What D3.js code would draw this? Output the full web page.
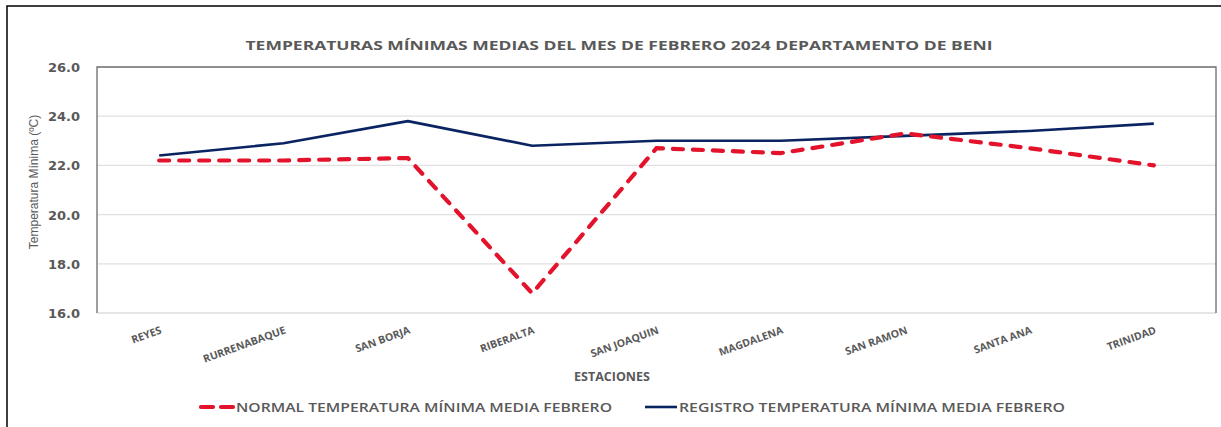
<!DOCTYPE html>
<html>
<head>
<meta charset="utf-8">
<script src="https://cdn.jsdelivr.net/npm/d3@7"></script>
<style>
  body { margin: 0; background: #fff; }
  svg { display: block; }
  .axis text { fill: #595959; }
</style>
</head>
<body>
<svg id="chart" width="1221" height="427"></svg>
<script>
/* Datos */
var estaciones = ['REYES', 'RURRENABAQUE', 'SAN BORJA', 'RIBERALTA', 'SAN JOAQUIN',
                  'MAGDALENA', 'SAN RAMON', 'SANTA ANA', 'TRINIDAD'];
var normal = [22.2, 22.2, 22.3, 16.8, 22.7, 22.5, 23.3, 22.7, 22.0];
var registro = [22.4, 22.9, 23.8, 22.8, 23.0, 23.0, 23.2, 23.4, 23.7];
var yTicks = [16, 18, 20, 22, 24, 26];

var titulo = 'TEMPERATURAS MÍNIMAS MEDIAS DEL MES DE FEBRERO 2024 DEPARTAMENTO DE BENI';
var serieNombres = ['NORMAL TEMPERATURA MÍNIMA MEDIA FEBRERO', 'REGISTRO TEMPERATURA MÍNIMA MEDIA FEBRERO'];

var svg = d3.select('#chart'),
    margin = {top: 67, right: 5, bottom: 114, left: 97},
    width = +svg.attr('width') - margin.left - margin.right,
    height = +svg.attr('height') - margin.top - margin.bottom;

var red = '#e3132b', navy = '#0a2361', grey = '#595959';

/* marco exterior */
svg.append('path')
    .attr('d', 'M7,427V6H1221')
    .attr('fill', 'none')
    .attr('stroke', '#000')
    .attr('stroke-width', 1.5);

var x = d3.scaleBand().domain(estaciones).range([0, width]),
    y = d3.scaleLinear().domain([16, 26]).range([height, 0]);

var g = svg.append('g')
    .attr('transform', 'translate(' + margin.left + ',' + margin.top + ')');

/* grid */
g.append('g')
    .selectAll('line')
    .data(yTicks.slice(1, -1))
    .enter().append('line')
      .attr('x1', 0).attr('x2', width)
      .attr('y1', function(d) { return y(d); })
      .attr('y2', function(d) { return y(d); })
      .attr('stroke', '#e0e0e0')
      .attr('stroke-width', 1.2);

g.append('line')
    .attr('x1', 0).attr('x2', width)
    .attr('y1', height).attr('y2', height)
    .attr('stroke', '#dcdcdc').attr('stroke-width', 1.5);

g.append('path')
    .attr('d', 'M0,' + height + 'V0H' + width + 'V' + height)
    .attr('fill', 'none')
    .attr('stroke', '#6b6b6b')
    .attr('stroke-width', 1.3);

/* eje y */
g.append('g')
    .attr('class', 'axis')
    .call(d3.axisLeft(y).tickValues(yTicks).tickFormat(d3.format('.1f')).tickSize(0).tickPadding(17))
    .call(function(a) { a.select('.domain').remove(); })
    .selectAll('text')
      .attr('font-family', 'DejaVu Sans')
      .attr('font-weight', 'bold')
      .attr('font-size', 13)
      .attr('dy', '0.35em');

/* eje x */
g.append('g')
    .attr('class', 'axis')
    .attr('transform', 'translate(0,' + height + ')')
    .call(d3.axisBottom(x).tickSize(0).tickPadding(0))
    .call(function(a) { a.select('.domain').remove(); })
    .selectAll('text')
      .attr('font-family', 'Open Sans')
      .attr('font-weight', 'bold')
      .attr('font-size', 10.5)
      .attr('text-anchor', 'end')
      .attr('dy', 0)
      .attr('transform', 'translate(3,20) rotate(-20)');

/* títulos */
svg.append('text')
    .attr('x', 619).attr('y', 50)
    .attr('text-anchor', 'middle')
    .attr('font-family', 'Open Sans').attr('font-weight', 'bold')
    .attr('font-size', 13)
    .attr('textLength', 747).attr('lengthAdjust', 'spacingAndGlyphs')
    .attr('fill', grey)
    .text(titulo);

svg.append('text')
    .attr('x', 612).attr('y', 381)
    .attr('text-anchor', 'middle')
    .attr('font-family', 'Open Sans').attr('font-weight', 'bold')
    .attr('font-size', 12.5)
    .attr('fill', grey)
    .text('ESTACIONES');

svg.append('text')
    .attr('transform', 'translate(38,' + (margin.top + height / 2 - 8) + ') rotate(-90)')
    .attr('text-anchor', 'middle')
    .attr('font-family', 'Liberation Sans Narrow, Liberation Sans')
    .attr('font-size', 12)
    .attr('fill', grey)
    .text('Temperatura Mínima (ºC)');

/* líneas */
var line = d3.line()
    .x(function(d, i) { return x(estaciones[i]) + x.bandwidth() / 2; })
    .y(function(d) { return y(d); });

g.append('path')
    .datum(registro)
    .attr('fill', 'none')
    .attr('stroke', navy)
    .attr('stroke-width', 2.6)
    .attr('stroke-linejoin', 'round')
    .attr('d', line);

g.append('path')
    .datum(normal)
    .attr('fill', 'none')
    .attr('stroke', red)
    .attr('stroke-width', 4.2)
    .attr('stroke-linecap', 'round')
    .attr('stroke-dasharray', '10,10')
    .attr('d', line);

/* leyenda */
var lg = svg.append('g').attr('transform', 'translate(0,407)');

lg.append('line')
    .attr('x1', 201).attr('x2', 233).attr('y1', 0).attr('y2', 0)
    .attr('stroke', red).attr('stroke-width', 4.2)
    .attr('stroke-linecap', 'round').attr('stroke-dasharray', '12,8');

lg.append('line')
    .attr('x1', 645).attr('x2', 677).attr('y1', 0).attr('y2', 0)
    .attr('stroke', navy).attr('stroke-width', 2.6);

lg.selectAll('text.leg')
    .data(serieNombres)
    .enter().append('text')
      .attr('class', 'leg')
      .attr('x', function(d, i) { return i === 0 ? 236 : 679; })
      .attr('y', 5)
      .attr('font-family', 'Open Sans')
      .attr('font-weight', 600)
      .attr('font-size', 12.5)
      .attr('textLength', function(d, i) { return i === 0 ? 376 : 386; })
      .attr('lengthAdjust', 'spacingAndGlyphs')
      .attr('fill', grey)
      .text(function(d) { return d; });
</script>
</body>
</html>
